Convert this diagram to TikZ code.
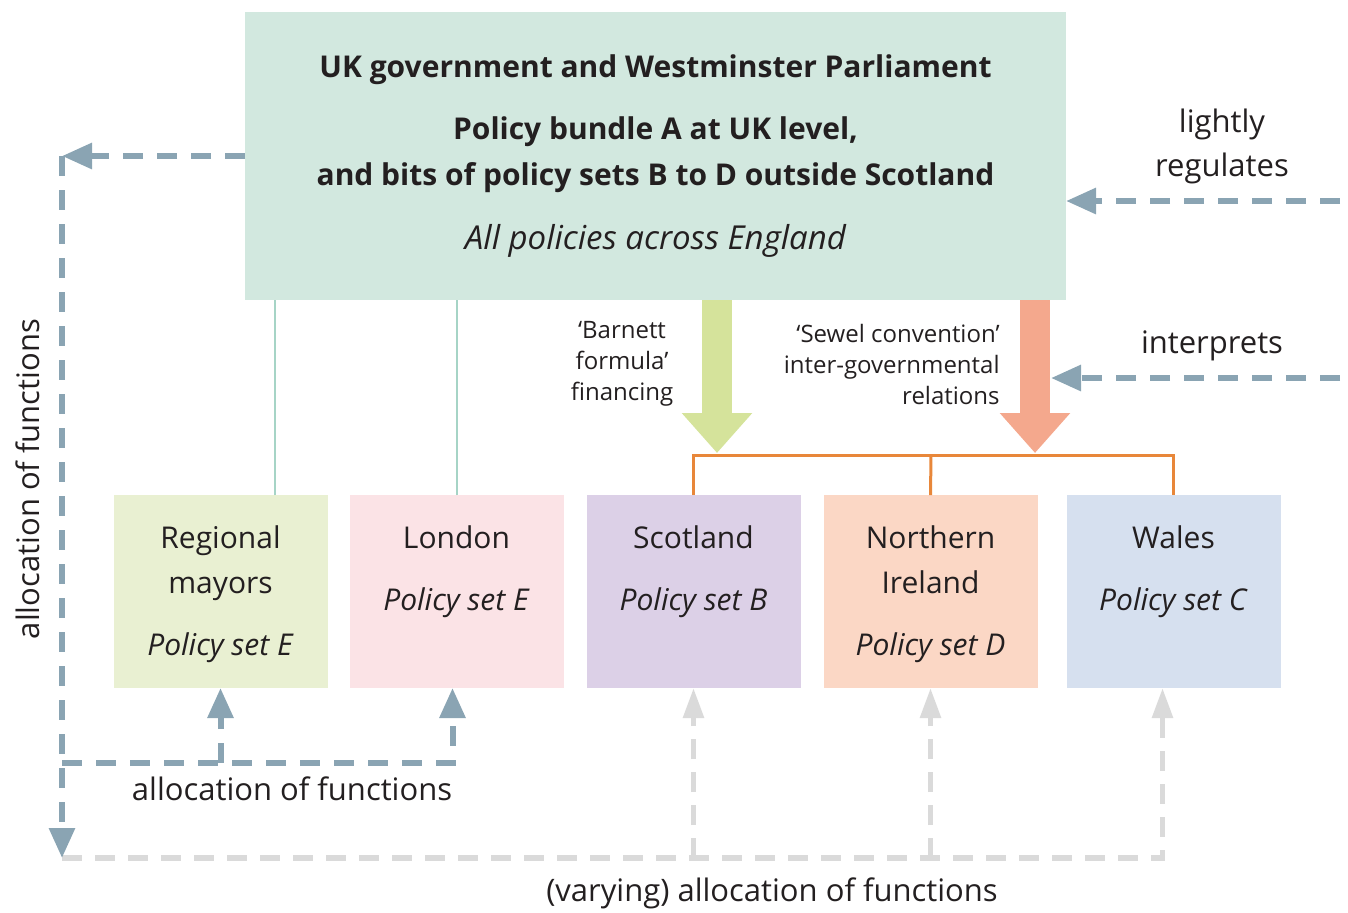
\documentclass[tikz,border=0pt]{standalone}
\usepackage{fontspec}
\setmainfont{Open Sans}
\usetikzlibrary{arrows.meta,positioning}

\definecolor{ink}{HTML}{231F20}
\definecolor{govfill}{HTML}{D2E8DF}
\definecolor{mayorsfill}{HTML}{E9F0D2}
\definecolor{londonfill}{HTML}{FBE3E6}
\definecolor{scotfill}{HTML}{DCD0E7}
\definecolor{nifill}{HTML}{FBD7C5}
\definecolor{walesfill}{HTML}{D6E0EF}
\definecolor{barnettgreen}{HTML}{D5E39B}
\definecolor{sewelorange}{HTML}{F4A88D}
\definecolor{bracketorange}{HTML}{E8873A}
\definecolor{linkteal}{HTML}{A6D4C6}
\definecolor{dashblue}{HTML}{8AA4B3}
\definecolor{dashgrey}{HTML}{DADADA}

\tikzstyle{top_box} = [rectangle, fill=govfill, minimum width=410.5pt, 
minimum height=144pt, inner sep=0pt, outer sep=0pt, align=center, text=ink, 
font=\fontsize{15}{23}\selectfont\bfseries]
\tikzstyle{region_box} = [rectangle, minimum width=107pt, minimum height=96.5pt, inner sep=0pt, outer sep=0pt]
\tikzstyle{box_text} = [align=center, inner sep=0pt, text=ink, font=\fontsize{15}{22.5}\selectfont]
\tikzstyle{note} = [align=center, inner sep=0pt, text=ink, font=\fontsize{12}{15.5}\selectfont]
\tikzstyle{flow_text} = [align=center, inner sep=0pt, text=ink, font=\fontsize{15.5}{22}\selectfont]
\tikzstyle{link_line} = [draw=linkteal, line width=1pt]
\tikzstyle{bracket_line} = [draw=bracketorange, line width=1.5pt]
\tikzstyle{big_arrow} = [line width=15pt, -{Triangle[width=34pt,length=20pt]}]
\tikzstyle{dash_arrow} = [draw=dashblue, line width=3pt, dash pattern=on 10pt off 7pt, 
-{Triangle[width=12.5pt,length=15pt]}]
\tikzstyle{grey_arrow} = [draw=dashgrey, line width=2.8pt, dash pattern=on 10pt off 6.5pt, 
-{Triangle[width=10pt,length=15pt]}]

\begin{document}
\begin{tikzpicture}[x=0.5pt, y=-0.5pt]
	\useasboundingbox (0,0) rectangle (1348,912);

	%Nodes
	\node [top_box] (ukgov) at (655.5,156) {UK government and Westminster Parliament\\[8pt]
		Policy bundle A at UK level,\\
		and bits of policy sets B to D outside Scotland\\[9pt]
		\normalfont\fontsize{16.5}{23}\selectfont\itshape All policies across England};

	\node [region_box, fill=mayorsfill] (mayors) at (220.5,591.5) {};
	\node [region_box, fill=londonfill, right=11pt of mayors] (london) {};
	\node [region_box, fill=scotfill, right=11.5pt of london] (scotland) {};
	\node [region_box, fill=nifill, right=11.5pt of scotland] (nireland) {};
	\node [region_box, fill=walesfill, right=14.5pt of nireland] (wales) {};

	\node [box_text, anchor=north, below=15pt of mayors.north] (mayors_txt) {Regional\\mayors\\[8.5pt]\textit{Policy set E}};
	\node [box_text, anchor=north, below=15pt of london.north] (london_txt) {London\\[8.5pt]\textit{Policy set E}};
	\node [box_text, anchor=north, below=15pt of scotland.north] (scotland_txt) {Scotland\\[8.5pt]\textit{Policy set B}};
	\node [box_text, anchor=north, below=15pt of nireland.north] (nireland_txt) {Northern\\Ireland\\[8.5pt]\textit{Policy set D}};
	\node [box_text, anchor=north, below=15pt of wales.north] (wales_txt) {Wales\\[8.5pt]\textit{Policy set C}};

	\node [note] (barnett_txt) at (622,364) {`Barnett\\formula'\\financing};
	\node [note, align=right, anchor=east] (sewel_txt) at (1000,364) {`Sewel convention'\\inter-governmental\\relations};

	\node [flow_text] (regulates_txt) at (1222,146) {lightly\\regulates};
	\node [flow_text] (interprets_txt) at (1212,346) {interprets};
	\node [flow_text, rotate=90] (alloc_side) at (28,479) {allocation of functions};
	\node [flow_text] (alloc_low) at (292,789) {allocation of functions};
	\node [flow_text] (alloc_var) at (772,893) {(varying) allocation of functions};

	\coordinate (bar) at (931,455);
	\coordinate (barnett) at (717,453);
	\coordinate (sewel) at (1035,453);
	\coordinate (corner) at (62,156);
	\coordinate (bottomleft) at (62,858);
	\coordinate (lsplit) at (62,763);
	\coordinate (regulates_in) at (1340,201);
	\coordinate (interprets_in) at (1340,378);
	\coordinate (interprets_end) at (1051,378);

	%Lines
	\draw [link_line] ([xshift=27pt]mayors.north) -- ([xshift=27pt]mayors.north |- ukgov.south);
	\draw [link_line] (london.north) -- (london.north |- ukgov.south);

	\draw [bracket_line] (scotland.north) |- (bar) -| (wales.north);
	\draw [bracket_line] (nireland.north) -- (bar);

	\draw [big_arrow, barnettgreen] (barnett |- ukgov.south) -- (barnett);
	\draw [big_arrow, sewelorange] (sewel |- ukgov.south) -- (sewel);

	\draw [grey_arrow] (bottomleft) -| ([xshift=-5.5pt]wales.south);
	\draw [grey_arrow] (scotland.south |- bottomleft) -- (scotland.south);
	\draw [grey_arrow] (nireland.south |- bottomleft) -- (nireland.south);

	\draw [dash_arrow] (ukgov.west) -- (corner);
	\draw [dash_arrow] (corner) -- (bottomleft);
	\draw [dash_arrow] (lsplit) -| ([xshift=-2pt]london.south);
	\draw [dash_arrow] (mayors.south |- lsplit) -- (mayors.south);

	\draw [dash_arrow] (regulates_in) -- (ukgov.east |- regulates_in);
	\draw [dash_arrow] (interprets_in) -- (interprets_end);

\end{tikzpicture}
\end{document}
